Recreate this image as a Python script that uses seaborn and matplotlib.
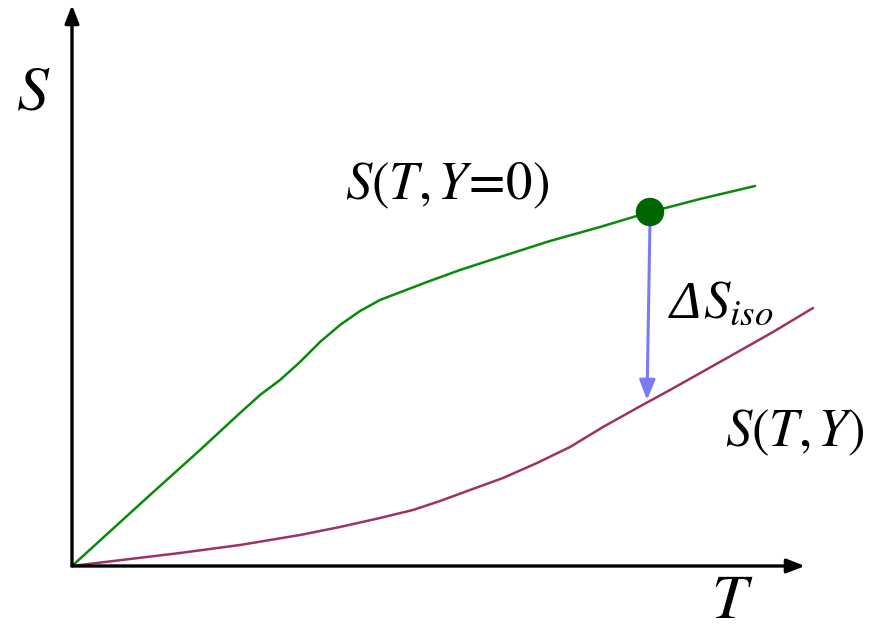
import matplotlib
matplotlib.use("Agg")
import matplotlib.pyplot as plt
import seaborn as sns
import pandas as pd

sns.set_theme(style="white")
plt.rcParams['mathtext.fontset'] = 'stix'
plt.rcParams['font.family'] = ['Liberation Serif', 'DejaVu Sans']
plt.rcParams['text.color'] = 'black'

# data in drawing units (T to the right, S upward), origin at the axes crossing
green_T = [0, 78, 128, 168, 188, 208, 228, 248, 268, 288, 308, 321, 355, 388, 428, 478, 528, 578, 628, 683]
green_S = [0, 71, 116, 153, 171, 186, 204, 224, 241, 255, 266, 271, 284, 296, 309, 325, 339, 354, 367, 380]
purple_T = [0, 58, 108, 168, 228, 268, 308, 341, 368, 398, 431, 465, 498, 531, 565, 598, 655, 701, 741]
purple_S = [0, 7, 13, 21, 31, 39, 48, 56, 65, 76, 88, 103, 119, 139, 158, 176, 208, 234, 258]
point_T = [578]
point_S = [354]
arrow_T = [578, 575]
arrow_S = [346, 166]

df_g = pd.DataFrame({"T": green_T, "S": green_S})
df_p = pd.DataFrame({"T": purple_T, "S": purple_S})
df_pt = pd.DataFrame({"T": point_T, "S": point_S})

fig = plt.figure(figsize=(8.8, 6.31), dpi=100)
ax = fig.add_axes([0, 0, 1, 1])
ax.set_xlim(-72, 808)
ax.set_ylim(-65, 566)
ax.axis("off")

# axes with arrows
ax.annotate("", xy=(733, 0), xytext=(0, 0),
            arrowprops=dict(arrowstyle="-|>,head_length=0.9,head_width=0.35",
                            color="black", lw=2.4, shrinkA=0, shrinkB=0))
ax.annotate("", xy=(0, 561), xytext=(0, 0),
            arrowprops=dict(arrowstyle="-|>,head_length=0.9,head_width=0.35",
                            color="black", lw=2.4, shrinkA=0, shrinkB=0))

sns.lineplot(data=df_g, x="T", y="S", ax=ax, color="#0a8a0a", lw=1.8, sort=False)
sns.lineplot(data=df_p, x="T", y="S", ax=ax, color="#9b3366", lw=1.8, sort=False)

ax.annotate("", xy=(arrow_T[1], arrow_S[1]), xytext=(arrow_T[0], arrow_S[0]),
            arrowprops=dict(arrowstyle="-|>,head_length=1.0,head_width=0.4",
                            color="#7b7bf5", lw=2.2, shrinkA=0, shrinkB=0))

sns.scatterplot(data=df_pt, x="T", y="S", ax=ax, color="#006600", s=420,
                edgecolor="none", zorder=5)

ax.text(-39, 471, r"$S$", fontsize=46, ha="center", va="center", color="black")
ax.text(660, -37, r"$T$", fontsize=46, ha="center", va="center", color="black")
ax.text(375, 380, r"$S(T{,}\,Y\!=\!0)$", fontsize=38, ha="center", va="center", color="black")
ax.text(723, 133, r"$S(T{,}\,Y)$", fontsize=38, ha="center", va="center", color="black")
ax.text(598, 248, "Δ", fontsize=38, fontstyle="italic", ha="left", va="baseline",
        color="black", family=["Liberation Serif", "DejaVu Serif"])
ax.text(631, 248, r"$S_{iso}$", fontsize=38, ha="left", va="baseline", color="black")

ax.set_xlabel("")
ax.set_ylabel("")
fig.savefig("out.png", dpi=100)
